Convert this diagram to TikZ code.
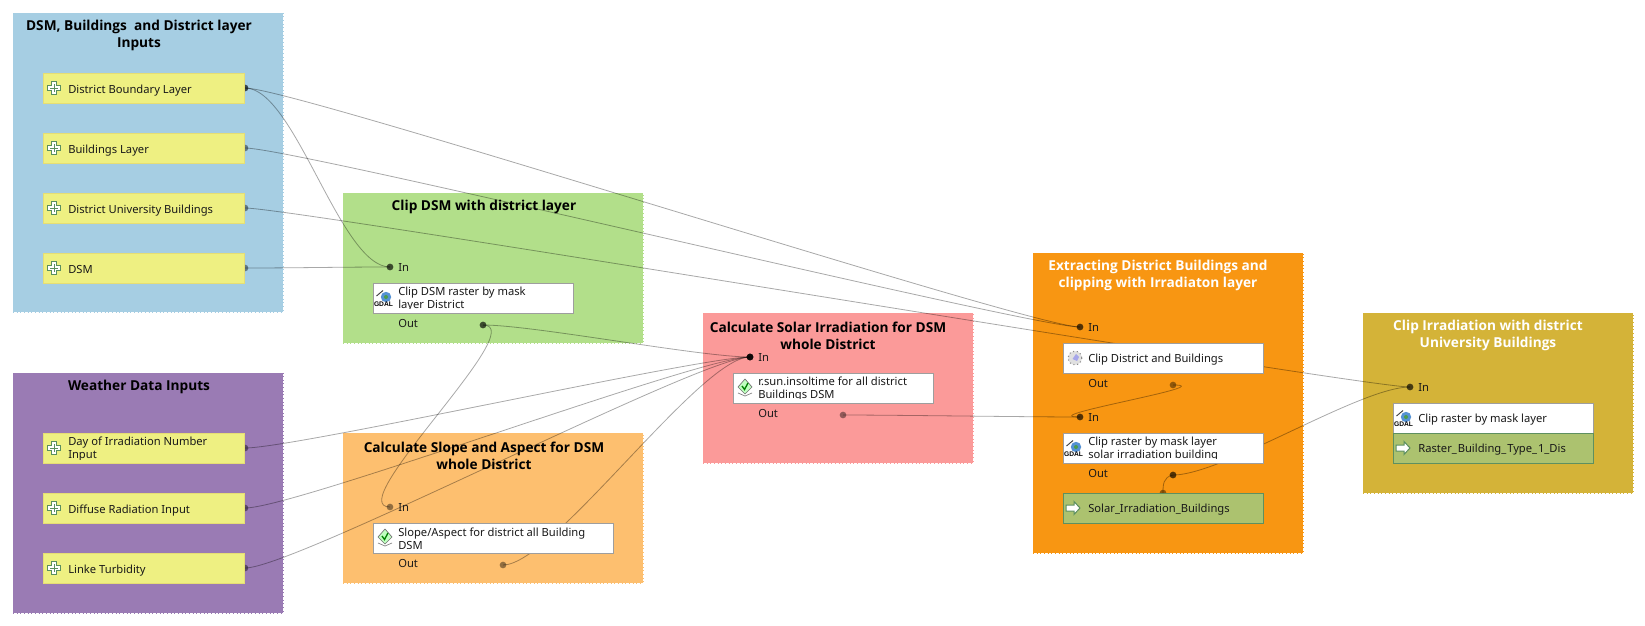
\documentclass[tikz,border=0pt]{standalone}
\usepackage{fontspec}
\setmainfont{Noto Sans}
\newfontfamily\ttlfont{Open Sans}
\newfontfamily\gdalfont{Liberation Sans}
\usetikzlibrary{calc}
\pgfdeclarelayer{grp}
\pgfdeclarelayer{lnk}
\pgfsetlayers{grp,lnk,main}
\definecolor{cblue}{HTML}{A6CEE3}
\definecolor{cpurple}{HTML}{9A7BB4}
\definecolor{cgreen}{HTML}{B2DF8A}
\definecolor{clight}{HTML}{FDBF6F}
\definecolor{cred}{HTML}{FB9A99}
\definecolor{corange}{HTML}{F89612}
\definecolor{cgold}{HTML}{D4B338}
\definecolor{cyel}{HTML}{EEF082}
\definecolor{cyelb}{HTML}{E6DE74}
\definecolor{coutf}{HTML}{ACC26F}
\definecolor{coutb}{HTML}{5E9060}
\definecolor{cicon}{HTML}{5B8F5F}
\tikzset{
  x=0.75pt,y=-0.75pt,
  groupbox/.style={rectangle,inner sep=0pt,outer sep=0pt,anchor=north west,dotted,line width=0.75pt},
  inbox/.style={rectangle,inner sep=0pt,outer sep=0pt,anchor=north west,fill=cyel,draw=cyelb,line width=0.6pt},
  algbox/.style={rectangle,inner sep=0pt,outer sep=0pt,anchor=north west,fill=white,draw=black!38,line width=0.7pt},
  outbox/.style={rectangle,inner sep=0pt,outer sep=0pt,anchor=north west,fill=coutf,draw=coutb,line width=0.7pt},
  lbl/.style={font=\fontsize{8.4}{10}\selectfont,inner sep=0pt,anchor=base west,align=left,text=black!90},
  lblb/.style={font=\fontsize{8.4}{10}\selectfont,inner sep=0pt,anchor=west,align=left,text=black!90},
  grouptitle/.style={font=\ttlfont\fontsize{10.25}{12.75}\selectfont\bfseries,inner sep=0pt,align=center,anchor=center},
  link/.style={draw=black,draw opacity=0.34,line width=0.6pt},
  portdot/.style={fill=black,fill opacity=0.42},
}
\newcommand{\grpbox}[6]{\node[groupbox,draw=#6,fill=#6,minimum width={(#4-#2)*0.75pt},minimum height={(#5-#3)*0.75pt}] (#1) at (#2,#3) {};}
\newcommand{\stepbox}[6]{\node[#6,minimum width={(#4-#2)*0.75pt},minimum height={(#5-#3)*0.75pt}] (#1) at (#2,#3) {};}
\newcommand{\conn}[2]{%
  \draw[link] (#1) .. controls +(50,0) and +(-50,0) .. (#2);
  \fill[portdot] (#1) circle[radius=2.5pt] (#2) circle[radius=2.5pt];}
\newcommand{\plusicon}[2]{\begin{scope}[shift={(#1,#2)}]
  \draw[cicon,fill=white,line width=0.75pt] (-2.5,-6.5)--(2.5,-6.5)--(2.5,-2.5)--(6.5,-2.5)--(6.5,2.5)--(2.5,2.5)--(2.5,6.5)--(-2.5,6.5)--(-2.5,2.5)--(-6.5,2.5)--(-6.5,-2.5)--(-2.5,-2.5)--cycle;
  \draw[cicon,line width=0.5pt] (0,-4)--(0,4) (-4,0)--(4,0);
\end{scope}}
\newcommand{\arrowicon}[2]{\begin{scope}[shift={(#1,#2)}]
  \draw[cicon,fill=white,line width=0.75pt] (-7,-3)--(1,-3)--(1,-6.5)--(7,0)--(1,6.5)--(1,3)--(-7,3)--cycle;
\end{scope}}
\newcommand{\gdalicon}[3]{\begin{scope}[shift={(#2,#3)}]
  \fill[cyan!55!blue!70] (13,14) circle[radius=5.2];
  \fill[green!45!black!70] (13,14) circle[radius=2];
  \draw[black!75,line width=0.7pt] (3.5,13)--(10,7.5);
  \node[inner sep=0pt,font=\gdalfont\fontsize{5}{5}\selectfont\bfseries] (#1) at (10.5,21.5) {GDAL};
\end{scope}}
\newcommand{\grassicon}[2]{\begin{scope}[shift={(#1,#2)}]
  \draw[black!50,line width=0.5pt] (-7,6)--(0,9)--(7,6);
  \draw[black!55,fill=green!25!white,line width=0.5pt] (0,-8)--(7,0)--(0,7)--(-7,0)--cycle;
  \draw[green!50!black,line width=1pt] (-3,-1)--(-0.5,2.5)--(3,-4);
\end{scope}}
\newcommand{\clipicon}[2]{\begin{scope}[shift={(#1,#2)}]
  \draw[black!45,fill=black!12,dotted,line width=0.8pt] (0,0) circle[radius=6.8];
  \fill[black!25!blue!35!white] (-2.5,1)--(1,-4)--(4,-1)--(2,3)--cycle;
\end{scope}}
\begin{document}
\begin{tikzpicture}
\useasboundingbox (0,0) rectangle (1645,625);
\begin{pgfonlayer}{grp}
  \grpbox{gA}{13}{13}{283}{312}{cblue}
  \node[grouptitle] (tA) at (139,35.5) {DSM, Buildings\ \ and District layer\\Inputs};
  \grpbox{gB}{13}{373}{283}{613}{cpurple}
  \node[grouptitle] (tB) at (139,386.5) {Weather Data Inputs};
  \grpbox{gC}{343}{193}{643}{343}{cgreen}
  \node[grouptitle] (tC) at (484,206.5) {Clip DSM with district layer};
  \grpbox{gD}{343}{433}{643}{583}{clight}
  \node[grouptitle] (tD) at (484,455.5) {Calculate Slope and Aspect for DSM\\whole District};
  \grpbox{gE}{703}{313}{973}{463}{cred}
  \node[grouptitle] (tE) at (828,335.5) {Calculate Solar Irradiation for DSM\\whole District};
  \grpbox{gF}{1033}{253}{1303}{553}{corange}
  \node[grouptitle,text=white] (tF) at (1158,275.5) {Extracting District Buildings and\\clipping with Irradiaton layer};
  \grpbox{gG}{1363}{313}{1633}{493}{cgold}
  \node[grouptitle,text=white] (tG) at (1488,335.5) {Clip Irradiation with district\\University Buildings};
\end{pgfonlayer}

% ports
\coordinate (pDistrict) at (245,88);
\coordinate (pBuild) at (245,148);
\coordinate (pUniv) at (245,208);
\coordinate (pDSM) at (245,268);
\coordinate (pDay) at (245,448);
\coordinate (pDiff) at (245,508);
\coordinate (pLinke) at (245,568);
\coordinate (cIn) at (390,267);
\coordinate (cOut) at (483,325);
\coordinate (dIn) at (390,507);
\coordinate (dOut) at (503,565);
\coordinate (eIn) at (750,357);
\coordinate (eOut) at (843,415);
\coordinate (fIn) at (1080,327);
\coordinate (fOut) at (1173,385);
\coordinate (hIn) at (1080,417);
\coordinate (hOut) at (1173,475);
\coordinate (sIn) at (1163,493);
\coordinate (kIn) at (1410,387);

\begin{pgfonlayer}{lnk}
  \conn{pDistrict}{cIn}
  \conn{pDSM}{cIn}
  \conn{pDistrict}{fIn}
  \conn{pBuild}{fIn}
  \conn{pUniv}{kIn}
  \conn{cOut}{eIn}
  \conn{cOut}{dIn}
  \conn{dOut}{eIn}
  \conn{pDay}{eIn}
  \conn{pDiff}{eIn}
  \conn{pLinke}{eIn}
  \conn{eOut}{hIn}
  \conn{fOut}{hIn}
  \conn{hOut}{kIn}
  \draw[link] (hOut) .. controls +(-10,2) and +(0,-8) .. (sIn);
  \fill[portdot] (hOut) circle[radius=2.5pt] (sIn) circle[radius=2.5pt];
\end{pgfonlayer}

% inputs
\stepbox{i1}{43}{73}{244}{103.5}{inbox}
\stepbox{i2}{43}{133}{244}{163.5}{inbox}
\stepbox{i3}{43}{193}{244}{223.5}{inbox}
\stepbox{i4}{43}{253}{244}{283.5}{inbox}
\stepbox{i5}{43}{433}{244}{463.5}{inbox}
\stepbox{i6}{43}{493}{244}{523.5}{inbox}
\stepbox{i7}{43}{553}{244}{583.5}{inbox}
\plusicon{54}{88}\plusicon{54}{148}\plusicon{54}{208}\plusicon{54}{268}
\plusicon{54}{448}\plusicon{54}{508}\plusicon{54}{568}
\node[lbl] (li1) at (68,93) {District Boundary Layer};
\node[lbl] (li2) at (68,153) {Buildings Layer};
\node[lbl] (li3) at (68,213) {District University Buildings};
\node[lbl] (li4) at (68,273) {DSM};
\begin{scope}
  \clip (43,433) rectangle (244,459.5);
  \node[lblb] (li5) at (68,449) {Day of Irradiation Number\\Input};
\end{scope}
\node[lbl] (li6) at (68,513) {Diffuse Radiation Input};
\node[lbl] (li7) at (68,573) {Linke Turbidity};

% clip DSM
\node[lbl] (lcIn) at (398,271) {In};
\stepbox{bC}{373}{283}{573}{313}{algbox}
\gdalicon{iC}{373}{283}
\begin{scope}
  \clip (373,283) rectangle (573,308.8);
  \node[lblb] (lbC) at (398,299) {Clip DSM raster by mask\\layer District};
\end{scope}
\node[lbl] (lcOut) at (398,327) {Out};

% slope
\node[lbl] (ldIn) at (398,511) {In};
\stepbox{bD}{373}{523}{613}{553}{algbox}
\grassicon{385}{537}
\begin{scope}
  \clip (373,523) rectangle (613,548.8);
  \node[lblb] (lbD) at (398,539) {Slope/Aspect for district all Building\\DSM};
\end{scope}
\node[lbl] (ldOut) at (398,567) {Out};

% solar
\node[lbl] (leIn) at (758,361) {In};
\stepbox{bE}{733}{373}{933}{403}{algbox}
\grassicon{745}{387}
\begin{scope}
  \clip (733,373) rectangle (933,398.8);
  \node[lblb] (lbE) at (758,389) {r.sun.insoltime for all district\\Buildings DSM};
\end{scope}
\node[lbl] (leOut) at (758,417) {Out};

% extract
\node[lbl] (lfIn) at (1088,331) {In};
\stepbox{bF}{1063}{343}{1263}{373}{algbox}
\clipicon{1075}{358}
\node[lbl] (lbF) at (1088,362) {Clip District and Buildings};
\node[lbl] (lfOut) at (1088,387) {Out};
\node[lbl] (lhIn) at (1088,421) {In};
\stepbox{bH}{1063}{433}{1263}{463}{algbox}
\gdalicon{iH}{1063}{433}
\begin{scope}
  \clip (1063,433) rectangle (1263,458.8);
  \node[lblb] (lbH) at (1088,449) {Clip raster by mask layer\\solar irradiation building};
\end{scope}
\node[lbl] (lhOut) at (1088,477) {Out};
\stepbox{bS}{1063}{493}{1263}{523}{outbox}
\arrowicon{1073}{508}
\node[lbl] (lbS) at (1088,512) {Solar\_Irradiation\_Buildings};

% final
\node[lbl] (lkIn) at (1418,391) {In};
\stepbox{bK}{1393}{403}{1593}{433}{algbox}
\gdalicon{iK}{1393}{403}
\node[lbl] (lbK) at (1418,422) {Clip raster by mask layer};
\stepbox{bR}{1393}{433}{1593}{463}{outbox}
\arrowicon{1403}{448}
\node[lbl] (lbR) at (1418,452) {Raster\_\kern.7pt Building\_\kern.7pt Type\_\kern.7pt 1\_Dis};
\end{tikzpicture}
\end{document}
